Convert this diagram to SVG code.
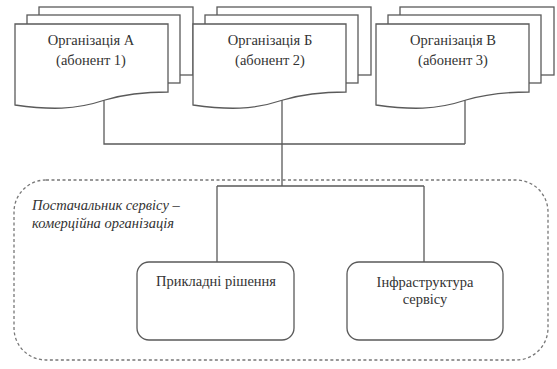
<svg xmlns="http://www.w3.org/2000/svg" width="557" height="369" viewBox="0 0 557 369">
<style>
.ln{fill:none;stroke:#5a5a5a;stroke-width:1.3}
.pg{fill:#fff;stroke:#5a5a5a;stroke-width:1.3}
.t{font-family:'Liberation Serif','DejaVu Serif',serif;font-size:14.5px;fill:#333;text-anchor:middle}
.ti{font-family:'Liberation Serif','DejaVu Serif',serif;font-size:14.5px;fill:#333;font-style:italic}
</style>
<defs>
<g id="doc">
<rect class="pg" x="24" y="-17" width="154" height="68"/>
<rect class="pg" x="12" y="-9" width="153" height="68"/>
<path class="pg" d="M0,0 H153 V68 C135,68 110,70 90,76 C60,86 35,86 0,81 Z"/>
</g>
</defs>
<g id="connectors">
<path class="ln" d="M104,100 V144 H465 M282,84 V186 M217,186 H424 M217,186 V262 M424,186 V262 M465,100 V144"/>
</g>
<g id="provider">
<rect x="14" y="180" width="534" height="180" rx="32" fill="none" stroke="#777" stroke-width="1.3" stroke-dasharray="3,2.5"/>
<text class="ti" x="32" y="210">Постачальник сервісу –</text>
<text class="ti" x="32" y="228">комерційна організація</text>
</g>
<g id="orgA">
<use href="#doc" x="15" y="24"/>
<text class="t" x="91" y="45">Організація А</text>
<text class="t" x="91" y="65">(абонент 1)</text>
</g>
<g id="orgB">
<use href="#doc" x="193" y="24"/>
<text class="t" x="270" y="45">Організація Б</text>
<text class="t" x="270" y="65">(абонент 2)</text>
</g>
<g id="orgC">
<use href="#doc" x="376" y="24"/>
<text class="t" x="453" y="45">Організація В</text>
<text class="t" x="453" y="65">(абонент 3)</text>
</g>
<g id="apps">
<rect class="pg" x="137" y="262" width="157" height="78" rx="12"/>
<text class="t" x="216" y="286">Прикладні рішення</text>
</g>
<g id="infra">
<rect class="pg" x="347" y="262" width="156" height="78" rx="12"/>
<text class="t" x="425" y="287">Інфраструктура</text>
<text class="t" x="425" y="304">сервісу</text>
</g>
</svg>
